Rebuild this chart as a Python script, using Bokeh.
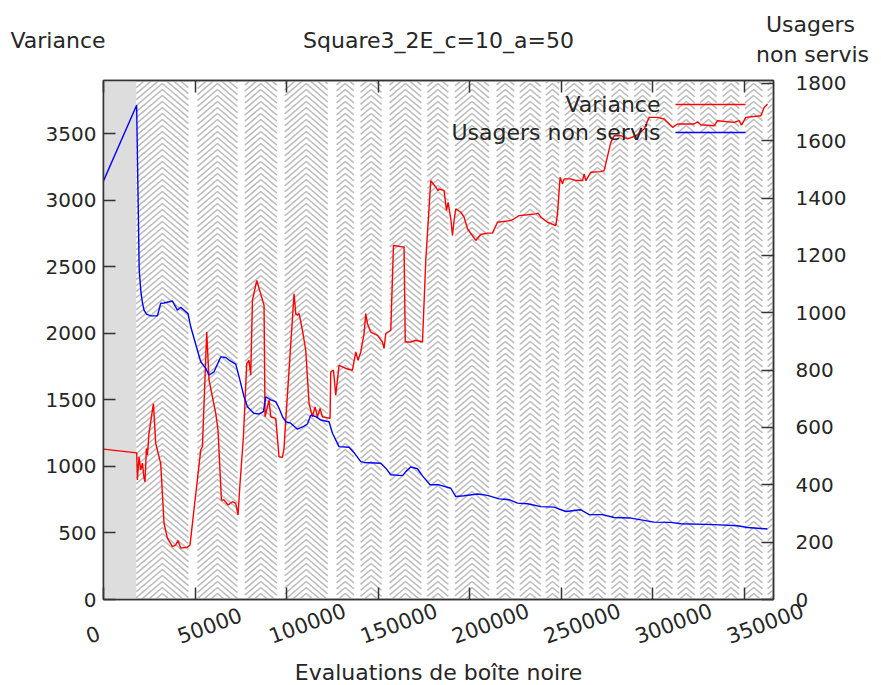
from bokeh.plotting import figure
from bokeh.layouts import column, row
from bokeh.models import (Range1d, LinearAxis, FixedTicker, BasicTickFormatter,
                          Label, Arrow)
from bokeh.embed import file_html
from bokeh.resources import INLINE
from bokeh.core.properties import value

# ---------------- data ----------------
var_x = [0, 18140, 18520, 19400, 20330, 21250, 22130, 22680, 23440, 23990, 24860, 27270, 28520,
         31250, 33060, 34910, 37650, 39450, 40710, 42180, 45840, 47260, 53110, 54040, 56390, 57650,
         61310, 62560, 64420, 65840, 68030, 70430, 72230, 73490, 74580, 76440, 78240, 79500, 80430,
         81360, 83710, 87700, 88240, 90430, 91360, 94090, 95890, 97750, 98620, 99550, 101360, 104090,
         105020, 105950, 106820, 108680, 110480, 112290, 114140, 115560, 116870, 118300, 119610,
         123760, 124140, 125620, 126870, 128680, 132340, 136000, 137810, 139060, 140530, 142340,
         143260, 144200, 146000, 149660, 152390, 153270, 154190, 156930, 158400, 164190, 164850,
         167850, 170590, 174250, 176050, 178780, 181520, 182770, 183320, 186050, 187360, 188240,
         189710, 190640, 191510, 192440, 195170, 196980, 198830, 203370, 206100, 209770, 212490,
         215220, 222490, 224300, 227030, 231620, 236150, 237410, 238880, 242550, 247080, 248010,
         249430, 250740, 251620, 255270, 258010, 261670, 262540, 263470, 266200, 271660, 273480,
         277140, 278940, 282600, 286260, 290800, 295330, 298060, 302650, 306260, 308990, 310850,
         313580, 322650, 324510, 326310, 333570, 335430, 344500, 347240, 348550, 350900, 359100,
         360900, 362750]
var_y = [1130, 1102, 898, 1072, 973, 1025, 913, 885, 1135, 1085, 1248, 1473, 1173,
         1023, 573, 461, 398, 410, 443, 386, 393, 410, 1123, 1148, 2010, 1648,
         1398, 1273, 748, 748, 710, 735, 723, 635, 873, 1223, 1773, 1798, 1685,
         2248, 2398, 2210, 1373, 1498, 1373, 1361, 1073, 1068, 1136, 1348, 1723, 2298,
         2148, 2135, 2150, 2023, 1873, 1473, 1373, 1448, 1373, 1436, 1373,
         1361, 1710, 1723, 1535, 1760, 1736, 1723, 1860, 1798, 1860, 1998,
         2148, 2073, 2010, 1985, 1935, 1886, 1998, 2023, 2660, 2648, 1935,
         1935, 1948, 1935, 2548, 3148, 3098, 3073, 3086, 3073, 2923, 2985,
         2861, 2735, 2848, 2936, 2910, 2873, 2786, 2698, 2743, 2753, 2753,
         2835, 2848, 2861, 2885, 2891, 2898, 2903, 2873, 2835, 2810, 2900,
         3173, 3123, 3161, 3161, 3148, 3148, 3198, 3148, 3210, 3215, 3223,
         3435, 3485, 3485, 3461, 3485, 3536, 3623, 3623, 3611, 3573, 3548,
         3573, 3573, 3590, 3568, 3560, 3598, 3585, 3598, 3565, 3623, 3635,
         3698, 3723]

usr_x = [0, 18100, 19500, 20330, 21250, 22130, 23500, 25800, 29450, 31250, 33060, 37650, 40380,
         42180, 46170, 47650, 53110, 55840, 57650, 60380, 64040, 66770, 68570, 72230, 74040, 76770,
         78630, 82230, 84970, 87370, 88620, 91360, 94090, 95890, 97750, 99550, 102290, 105950,
         109550, 111410, 113210, 115950, 118680, 123210, 125070, 128680, 134140, 136870, 140530,
         142340, 151460, 154190, 156930, 163320, 165120, 167860, 171510, 174250, 178400, 183320,
         189710, 192440, 196980, 204300, 209770, 216100, 221560, 226160, 231620, 238880, 246150,
         252550, 260740, 265280, 272600, 278940, 288060, 300790, 309910, 315380, 333570, 346360,
         351820, 362750]
usr_y = [1460, 1724, 1150, 1080, 1035, 1009, 995, 989, 989, 1033, 1034, 1041, 1009,
         1019, 997, 951, 829, 806, 783, 794, 846, 844, 835, 821, 777, 707,
         672, 649, 647, 655, 707, 696, 690, 667, 638, 620, 615, 594,
         605, 612, 643, 638, 626, 620, 580, 533, 531, 512, 481,
         478, 475, 458, 435, 432, 446, 462, 456, 431, 400, 400,
         388, 359, 362, 368, 363, 351, 348, 336, 334, 324, 322,
         307, 313, 296, 296, 286, 284, 270, 269, 264, 261, 257,
         251, 246]

warmup_end = 17900
band_start = [17900, 51300, 77200, 99000, 127300, 140400, 156300, 176900, 192000, 214700, 227400,
              241600, 252000, 265300, 277500, 289900, 301700, 313600, 325900, 338200, 350400, 362800]
band_end = [46400, 73200, 94700, 122500, 136800, 151900, 173600, 188400, 210600, 224300, 238900,
            248900, 262200, 274400, 286600, 299000, 310800, 323000, 335000, 347300, 360000, 372000]

x_ticks = [0, 50000, 100000, 150000, 200000, 250000, 300000, 350000]
y_ticks = [0, 500, 1000, 1500, 2000, 2500, 3000, 3500]
y2_ticks = [0, 200, 400, 600, 800, 1000, 1200, 1400, 1600, 1800]

X_MAX, Y_MAX, Y2_MAX = 366000, 3900, 1810

title_text = "Square3_2E_c=10_a=50"
xlabel = "Evaluations de boîte noire"
ylabel = "Variance"
y2label = ["Usagers", "non servis"]
series_names = ["Variance", "Usagers non servis"]

# ---------------- layout / styles ----------------
FONT = "DejaVu Sans"
FS = "22px"
TFS = "20px"
XFS = "21px"
TXT = "#262626"
AX = "#333333"
W = 873
HEAD_H = 72
FRAME_L, FRAME_R_BORDER, FRAME_T, FRAME_B = 103, 100, 8, 26
FRAME_W, FRAME_H = W - FRAME_L - FRAME_R_BORDER, 519
FOOT_H = 84
FOOT_TOP = HEAD_H + FRAME_T + FRAME_H   # page y where footer starts (overlaps main border)

# ---------------- header ----------------
head = figure(width=W, height=HEAD_H, output_backend="svg", toolbar_location=None,
              x_range=Range1d(0, W), y_range=Range1d(HEAD_H, 0),
              x_axis_type=None, y_axis_type=None, min_border=0)
head.grid.visible = False
head.outline_line_color = None
head.title.visible = False
head.text(x=[FRAME_L + FRAME_W / 2], y=[40], text=[title_text], text_font=value(FONT),
          text_font_size=FS, text_color=TXT, text_align="center", text_baseline="middle")
head.text(x=[10], y=[40], text=[ylabel], text_font=value(FONT),
          text_font_size=FS, text_color=TXT, text_align="left", text_baseline="middle")
head.text(x=[810, 812], y=[24, 54], text=y2label, text_font=value(FONT),
          text_font_size=FS, text_color=TXT, text_align="center", text_baseline="middle")

# ---------------- main plot ----------------
p = figure(frame_width=FRAME_W, frame_height=FRAME_H, output_backend="svg", toolbar_location=None,
           x_range=Range1d(0, X_MAX), y_range=Range1d(0, Y_MAX),
           x_axis_type=None, y_axis_type=None,
           min_border_left=FRAME_L, min_border_right=FRAME_R_BORDER,
           min_border_top=FRAME_T, min_border_bottom=FRAME_B)
p.extra_y_ranges = {"y2": Range1d(0, Y2_MAX)}
p.grid.visible = False
p.title.visible = False
p.outline_line_color = AX
p.outline_line_width = 1.5
p.background_fill_color = "white"
p.border_fill_color = "white"


def style_axis(ax, standoff, show_labels=True):
    ax.axis_line_color = AX
    ax.axis_line_width = 1.5
    ax.major_tick_line_color = AX
    ax.major_tick_line_width = 1.5
    ax.major_tick_in = 12
    ax.major_tick_out = 0
    ax.minor_tick_line_color = None
    ax.major_label_text_font = FONT
    ax.major_label_text_font_size = TFS
    ax.major_label_text_color = TXT if show_labels else None
    ax.major_label_standoff = standoff
    ax.formatter = BasicTickFormatter(use_scientific=False)


xb = LinearAxis(ticker=FixedTicker(ticks=x_ticks))
style_axis(xb, 0, False)
p.add_layout(xb, "below")
xt = LinearAxis(ticker=FixedTicker(ticks=x_ticks))
style_axis(xt, 0, False)
p.add_layout(xt, "above")
yl = LinearAxis(ticker=FixedTicker(ticks=y_ticks))
style_axis(yl, 7)
p.add_layout(yl, "left")
yr = LinearAxis(y_range_name="y2", ticker=FixedTicker(ticks=y2_ticks))
style_axis(yr, 22)
p.add_layout(yr, "right")

# warm-up box
p.quad(left=[0], right=[warmup_end], bottom=[0], top=[Y_MAX],
       fill_color="#dddddd", line_color=None)

# chevron texture of the bands (stacked "^", arms spanning the band width)
ux = X_MAX / FRAME_W     # data units per px (x)
uy = Y_MAX / FRAME_H     # data units per px (y)
step = 6 * uy
cx, cy = [], []
for a, b in zip(band_start, band_end):
    mid = (a + b) / 2
    rise = 0.85 * (mid - a) / ux * uy
    y0 = -rise
    while y0 < Y_MAX:
        cx.append([a, mid, b])
        cy.append([y0, y0 + rise, y0])
        y0 += step
p.multi_line(cx, cy, line_color="#bdbdbd", line_width=1.6)

# series
p.line(var_x, var_y, line_color="#ff0000", line_width=1.4)
p.line(usr_x, usr_y, line_color="#0000ff", line_width=1.4, y_range_name="y2")

# legend (text then sample line), screen units from frame bottom-left
for name, yy, col in [(series_names[0], 495, "#ff0000"), (series_names[1], 467, "#0000ff")]:
    p.add_layout(Label(x=557, y=yy, x_units="screen", y_units="screen", text=name,
                       text_font=FONT, text_font_size=FS, text_color=TXT,
                       text_align="right", text_baseline="middle"))
    p.add_layout(Arrow(end=None, x_start=572, y_start=yy, x_end=642, y_end=yy,
                       start_units="screen", end_units="screen",
                       line_color=col, line_width=1.4))

# ---------------- footer: x tick labels and x label ----------------
foot = figure(width=W, height=FOOT_H, output_backend="svg", toolbar_location=None,
              x_range=Range1d(-FRAME_L * ux, (W - FRAME_L) * ux),
              y_range=Range1d(FOOT_TOP + FOOT_H, FOOT_TOP),
              x_axis_type=None, y_axis_type=None, min_border=0,
              margin=(-FRAME_B, 0, 0, 0))
foot.grid.visible = False
foot.outline_line_color = None
foot.title.visible = False
foot.background_fill_color = None
foot.border_fill_color = None
foot.text(x=x_ticks, y=[636] * len(x_ticks), text=[str(t) for t in x_ticks],
          angle=0.349, x_offset=-17, text_font=value(FONT), text_font_size=XFS,
          text_color=TXT, text_align="left", text_baseline="alphabetic")
foot.text(x=[X_MAX / 2], y=[672], text=[xlabel], text_font=value(FONT), text_font_size=FS,
          text_color=TXT, text_align="center", text_baseline="alphabetic")

layout = column(row(head), row(p), row(foot), spacing=0)
open("out.html", "w").write(file_html(layout, INLINE))
